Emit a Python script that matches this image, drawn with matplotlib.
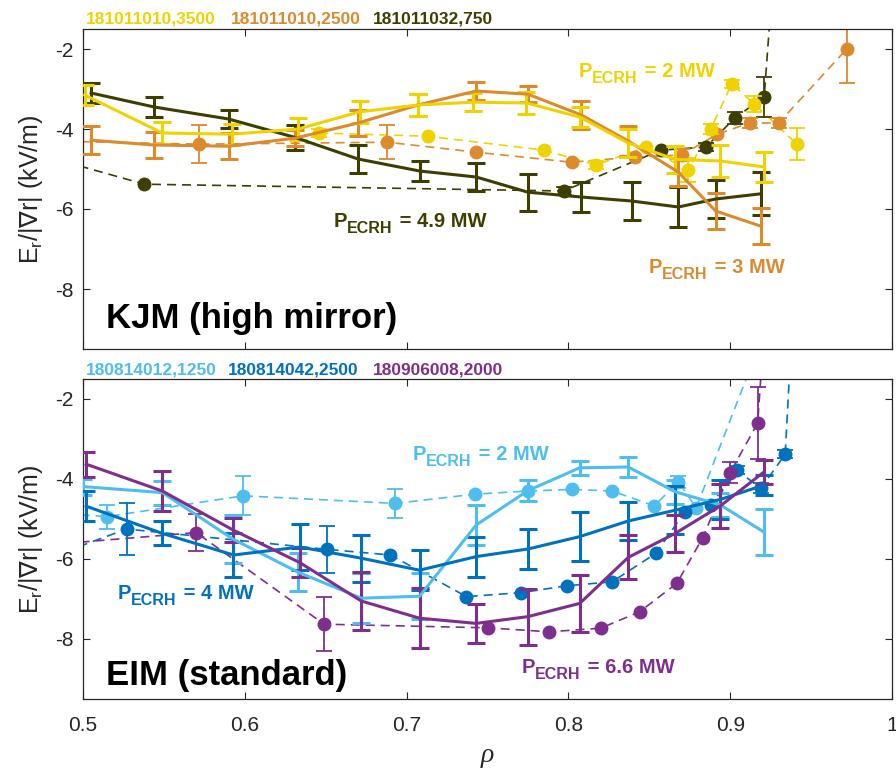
import matplotlib
matplotlib.use("Agg")
import matplotlib.pyplot as plt
import numpy as np

plt.rcParams['font.family'] = ['Liberation Sans', 'DejaVu Sans']
plt.rcParams['mathtext.fontset'] = 'custom'
plt.rcParams['mathtext.rm'] = 'Liberation Sans'
plt.rcParams['mathtext.bf'] = 'Liberation Sans:bold'
plt.rcParams['mathtext.it'] = 'Liberation Sans:italic'
plt.rcParams['mathtext.sf'] = 'DejaVu Sans'
plt.rcParams['lines.scale_dashes'] = False

# ---------------- colours ----------------
C_YEL = '#F0D200'
C_ORA = '#DB8A2E'
C_OLI = '#3E3E00'
C_LBL = '#4DBEEE'
C_DBL = '#0072BD'
C_PUR = '#7E2F8E'

# ---------------- KJM (top) data ----------------
# 181011032,750 (P=4.9 MW)
s750_rho = [0.505, 0.544, 0.590, 0.631, 0.670, 0.708, 0.743, 0.775, 0.808, 0.839, 0.868, 0.891, 0.919]
s750_v   = [-3.10, -3.45, -3.75, -4.21, -4.75, -5.05, -5.20, -5.58, -5.70, -5.80, -5.95, -5.75, -5.62]
s750_e   = [0.24, 0.25, 0.23, 0.31, 0.35, 0.24, 0.35, 0.46, 0.38, 0.47, 0.50, 0.47, 0.54]
m750_rho = [0.480, 0.538, 0.797, 0.857, 0.885, 0.903, 0.921, 0.935]
m750_v   = [-4.72, -5.38, -5.55, -4.53, -4.45, -3.72, -3.20, 4.5]
m750_e   = [0, 0, 0.10, 0, 0.10, 0.15, 0.50, 0]

# 181011010,3500 (P=2 MW)
s3500_rho = [0.501, 0.549, 0.592, 0.633, 0.671, 0.707, 0.741, 0.774, 0.807, 0.837, 0.866, 0.894, 0.921]
s3500_v   = [-3.15, -4.10, -4.13, -4.00, -3.57, -3.40, -3.33, -3.35, -3.70, -4.35, -4.76, -4.80, -4.95]
s3500_e   = [0.24, 0.28, 0.26, 0.27, 0.28, 0.27, 0.22, 0.27, 0.26, 0.35, 0.33, 0.40, 0.38]
m3500_rho = [0.646, 0.713, 0.785, 0.817, 0.848, 0.874, 0.888, 0.901, 0.915, 0.941]
m3500_v   = [-4.10, -4.18, -4.53, -4.90, -4.45, -5.03, -4.00, -2.87, -3.38, -4.37]
m3500_e   = [0.10, 0, 0, 0.10, 0, 0.30, 0.12, 0.10, 0.20, 0.40]

# 181011010,2500 (P=3 MW)
s2500_rho = [0.505, 0.544, 0.590, 0.631, 0.670, 0.707, 0.743, 0.775, 0.808, 0.837, 0.868, 0.891, 0.919]
s2500_v   = [-4.28, -4.40, -4.43, -4.23, -3.85, -3.40, -3.05, -3.13, -3.65, -4.30, -5.08, -6.05, -6.43]
s2500_e   = [0.35, 0.32, 0.33, 0.20, 0.33, 0.28, 0.23, 0.20, 0.36, 0.37, 0.35, 0.45, 0.45]
m2500_rho = [0.480, 0.572, 0.688, 0.743, 0.802, 0.841, 0.870, 0.892, 0.912, 0.930, 0.972]
m2500_v   = [-4.30, -4.38, -4.33, -4.58, -4.83, -4.70, -4.65, -4.13, -3.85, -3.85, -2.00]
m2500_e   = [0, 0.47, 0.43, 0, 0, 0, 0.15, 0, 0.12, 0.12, 0.85]

# ---------------- EIM (bottom) data ----------------
# 180814012,1250 (P=2 MW)
s1250_rho = [0.500, 0.549, 0.593, 0.633, 0.672, 0.708, 0.743, 0.775, 0.807, 0.837, 0.866, 0.894, 0.921]
s1250_v   = [-4.19, -4.34, -5.51, -6.33, -6.98, -6.93, -5.15, -4.29, -3.72, -3.70, -4.32, -4.65, -5.33]
s1250_e   = [0.20, 0.30, 0.60, 0.47, 0.63, 0.57, 0.50, 0.26, 0.17, 0.26, 0.30, 0.30, 0.57]
m1250_rho = [0.480, 0.515, 0.599, 0.693, 0.742, 0.775, 0.802, 0.827, 0.853, 0.868, 0.879, 0.930]
m1250_v   = [-4.85, -4.94, -4.42, -4.61, -4.38, -4.30, -4.26, -4.30, -4.67, -4.07, -4.72, 0.6]
m1250_e   = [0, 0.30, 0.49, 0.37, 0, 0, 0, 0, 0, 0.15, 0, 0]

# 180814042,2500 (P=4 MW)
s2500b_rho = [0.502, 0.549, 0.593, 0.634, 0.672, 0.708, 0.743, 0.775, 0.807, 0.837, 0.866, 0.894, 0.921]
s2500b_v   = [-4.68, -5.36, -5.90, -5.70, -5.98, -6.28, -5.94, -5.75, -5.44, -5.05, -4.78, -4.51, -4.15]
s2500b_e   = [0.38, 0.30, 0.55, 0.57, 0.59, 0.50, 0.50, 0.51, 0.62, 0.48, 0.60, 0.49, 0.25]
m2500b_rho = [0.480, 0.527, 0.651, 0.690, 0.737, 0.771, 0.799, 0.827, 0.854, 0.872, 0.888, 0.904, 0.919, 0.934, 0.945]
m2500b_v   = [-5.95, -5.25, -5.76, -5.90, -6.94, -6.84, -6.67, -6.57, -5.86, -4.82, -4.65, -3.78, -4.23, -3.38, 5.0]
m2500b_e   = [0, 0.66, 0.59, 0, 0, 0, 0, 0, 0, 0, 0, 0.10, 0.12, 0.10, 0]

# 180906008,2000 (P=6.6 MW)
s2000_rho = [0.502, 0.549, 0.593, 0.634, 0.672, 0.708, 0.743, 0.775, 0.807, 0.837, 0.866, 0.894, 0.921]
s2000_v   = [-3.63, -4.30, -5.28, -6.09, -7.05, -7.48, -7.61, -7.44, -7.11, -5.96, -5.36, -4.67, -3.82]
s2000_e   = [0.31, 0.51, 0.30, 0.36, 0.72, 0.75, 0.49, 0.70, 0.71, 0.55, 0.46, 0.55, 0.30]
m2000_rho = [0.480, 0.570, 0.649, 0.750, 0.788, 0.820, 0.844, 0.867, 0.883, 0.900, 0.917, 0.925]
m2000_v   = [-5.64, -5.34, -7.63, -7.72, -7.82, -7.73, -7.32, -6.61, -5.47, -3.84, -2.60, 2.2]
m2000_e   = [0, 0.47, 0.68, 0, 0, 0, 0, 0, 0, 0.26, 0.90, 0]

xticks = [0.5, 0.6, 0.7, 0.8, 0.9, 1.0]
xticklabels = ['0.5', '0.6', '0.7', '0.8', '0.9', '1']
yticks = [-8, -6, -4, -2]
yticklabels = ['-8', '-6', '-4', '-2']

W, H = 896, 772
fig = plt.figure(figsize=(W / 100, H / 100), dpi=100)
renderer = fig.canvas.get_renderer()

def px(x, y):
    return x / W, 1 - y / H

ax_top = fig.add_axes([83 / W, 1 - 349 / H, 809 / W, 320 / H])
ax_bot = fig.add_axes([83 / W, 1 - 699 / H, 809 / W, 320 / H])

DASH = (0, (6.5, 4.3))

def solid(ax, rho, v, e, c):
    ax.errorbar(rho, v, yerr=e, color=c, lw=2.2, elinewidth=2.2, capsize=6.5,
                capthick=2.2, zorder=3)

def dashed(ax, rho, v, e, c):
    ax.plot(rho, v, color=c, lw=1.2, linestyle=DASH, zorder=2)
    ax.plot(rho, v, color=c, lw=0, marker='o', ms=9, zorder=2.5)
    r = [a for a, b in zip(rho, e) if b > 0]
    vv = [a for a, b in zip(v, e) if b > 0]
    ee = [b for b in e if b > 0]
    ax.errorbar(r, vv, yerr=ee, fmt='none', ecolor=c, elinewidth=1.3,
                capsize=6, capthick=1.3, zorder=2.5)

# top panel
dashed(ax_top, m750_rho, m750_v, m750_e, C_OLI)
dashed(ax_top, m2500_rho, m2500_v, m2500_e, C_ORA)
dashed(ax_top, m3500_rho, m3500_v, m3500_e, C_YEL)
solid(ax_top, s750_rho, s750_v, s750_e, C_OLI)
solid(ax_top, s2500_rho, s2500_v, s2500_e, C_ORA)
solid(ax_top, s3500_rho, s3500_v, s3500_e, C_YEL)

# bottom panel
dashed(ax_bot, m1250_rho, m1250_v, m1250_e, C_LBL)
dashed(ax_bot, m2500b_rho, m2500b_v, m2500b_e, C_DBL)
dashed(ax_bot, m2000_rho, m2000_v, m2000_e, C_PUR)
solid(ax_bot, s1250_rho, s1250_v, s1250_e, C_LBL)
solid(ax_bot, s2500b_rho, s2500b_v, s2500b_e, C_DBL)
solid(ax_bot, s2000_rho, s2000_v, s2000_e, C_PUR)

AX_COL = '#262626'
for ax in (ax_top, ax_bot):
    ax.set_xlim(0.5, 1.0)
    ax.set_ylim(-9.5, -1.5)
    ax.set_xticks(xticks)
    ax.set_yticks(yticks)
    ax.set_yticklabels(yticklabels)
    ax.tick_params(direction='in', length=5, width=0.8, top=True, right=True,
                   labelsize=15, colors=AX_COL, pad=7)
    for s in ax.spines.values():
        s.set_color(AX_COL)
        s.set_linewidth(0.9)
    ax.set_ylabel('E$_\\mathregular{r}$/|$\\mathsf{\\nabla}$r| (kV/m)', fontsize=18,
                  color=AX_COL, labelpad=7)

ax_top.set_xticklabels([])
ax_bot.set_xticklabels(xticklabels)
ax_bot.tick_params(axis='x', pad=12)
ax_bot.set_xlabel('ρ', fontsize=20, family='Liberation Serif', style='italic',
                  color=AX_COL, labelpad=6)

# header labels
def ftext(x, y, s, c, size=12.5):
    fig.text(*px(x, y), s, color=c, fontsize=size, fontweight='bold', va='baseline', ha='left')

ftext(86, 23, '181011010,3500', C_YEL)
ftext(231, 23, '181011010,2500', C_ORA)
ftext(373, 23, '181011032,750', C_OLI)
ftext(86, 375, '180814012,1250', C_LBL)
ftext(228, 375, '180814042,2500', C_DBL)
ftext(373, 375, '180906008,2000', C_PUR)

def plabel(x, y, mw, c):
    # "P" large, "ECRH" subscript, then " = x MW"
    t1 = fig.text(*px(x, y), 'P', color=c, fontsize=14.5, fontweight='bold',
                  va='baseline', ha='left')
    w1 = t1.get_window_extent(renderer).width
    t2 = fig.text(*px(x + w1 - 1, y + 6), 'ECRH', color=c, fontsize=11.5, fontweight='bold',
                  va='baseline', ha='left')
    w2 = t2.get_window_extent(renderer).width
    fig.text(*px(x + w1 + w2 + 1, y), ' = ' + mw + ' MW', color=c, fontsize=14.5,
             fontweight='bold', va='baseline', ha='left')

plabel(579, 77, '2', C_YEL)
plabel(334, 227, '4.9', C_OLI)
plabel(649, 273, '3', C_ORA)
plabel(413, 460, '2', C_LBL)
plabel(118, 599, '4', C_DBL)
plabel(522, 673, '6.6', C_PUR)

fig.text(*px(106, 328), 'KJM (high mirror)', fontsize=25, fontweight='bold', color='black',
         va='baseline', ha='left')
fig.text(*px(106, 685), 'EIM (standard)', fontsize=25, fontweight='bold', color='black',
         va='baseline', ha='left')

fig.savefig('out.png', dpi=100)
